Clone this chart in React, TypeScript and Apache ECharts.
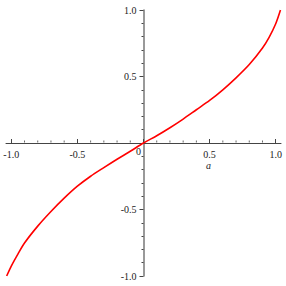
import React, { useEffect, useRef } from "react";
import * as echarts from "echarts";

const xValues = [-1.035, -1.0, -0.95, -0.9, -0.8, -0.7, -0.6, -0.5, -0.4, -0.3, -0.2, -0.1, 0, 0.1, 0.2, 0.3, 0.4, 0.5, 0.6, 0.7, 0.8, 0.9, 0.95, 1.0, 1.036];
const yValues = [-1.0, -0.925, -0.835, -0.752, -0.625, -0.515, -0.415, -0.325, -0.25, -0.185, -0.122, -0.062, 0, 0.055, 0.115, 0.18, 0.25, 0.32, 0.4, 0.49, 0.59, 0.715, 0.795, 0.897, 1.0];
const xMajorTicks = [-1, -0.5, 0, 0.5, 1];
const xMinorTicks = [-0.9, -0.8, -0.7, -0.6, -0.4, -0.3, -0.2, -0.1, 0.1, 0.2, 0.3, 0.4, 0.6, 0.7, 0.8, 0.9];
const xLabelValues = [-1, -0.5, 0.5, 1];
const originLabel = "0";
const xName = "a";

const GRID = { left: 6, right: 5, top: 10, bottom: 10 };
const W = 286;
const H = 286;
const X_MIN = -1.04;
const X_MAX = 1.04;
const Y_MIN = -1;
const Y_MAX = 1;

export default function App() {
  const ref = useRef<HTMLDivElement>(null);
  useEffect(() => {
    if (!ref.current) return;
    const chart = echarts.init(ref.current, undefined, { renderer: "svg" });
    const font = "Liberation Serif";
    const gw = W - GRID.left - GRID.right;
    const gh = H - GRID.top - GRID.bottom;
    const xOffset = -(gh * (0 - Y_MIN)) / (Y_MAX - Y_MIN);
    const yOffset = -(gw * (0 - X_MIN)) / (X_MAX - X_MIN);
    chart.setOption({
      animation: false,
      backgroundColor: "#ffffff",
      grid: { ...GRID, outerBoundsMode: "none", containLabel: false },
      xAxis: {
        type: "value",
        min: X_MIN,
        max: X_MAX,
        position: "bottom",
        offset: xOffset,
        axisLine: { onZero: false, lineStyle: { color: "#444", width: 1 } },
        axisTick: { show: true, inside: true, length: 4, customValues: xMajorTicks, lineStyle: { color: "#444" } },
        axisLabel: {
          customValues: xLabelValues,
          margin: 6,
          fontFamily: font,
          fontSize: 10,
          color: "#222",
          formatter: (v: number) => v.toFixed(1),
        },
        splitLine: { show: false },
      },
      yAxis: {
        type: "value",
        min: Y_MIN,
        max: Y_MAX,
        interval: 0.5,
        position: "left",
        offset: yOffset,
        axisLine: { show: true, onZero: false, lineStyle: { color: "#777", width: 1.5 } },
        axisTick: { show: true, length: 4, lineStyle: { color: "#444" } },
        minorTick: { show: true, splitNumber: 5, length: 2, lineStyle: { color: "#444" } },
        axisLabel: {
          margin: 7,
          fontFamily: font,
          fontSize: 10,
          color: "#222",
          formatter: (v: number) => (v === 0 ? "" : v.toFixed(1)),
        },
        splitLine: { show: false },
      },
      graphic: [
        {
          type: "text",
          left: 136,
          top: 146,
          style: { text: originLabel, font: `10px ${font}`, fill: "#222" },
        },
        {
          type: "text",
          left: 206,
          top: 160,
          style: { text: xName, font: `italic 10px ${font}`, fill: "#222" },
        },
      ],
      series: [
        {
          type: "line",
          data: xValues.map((x, i) => [x, yValues[i]]),
          showSymbol: false,
          smooth: 0.3,
          lineStyle: { color: "#ff0000", width: 1.6 },
          z: 3,
        },
        {
          type: "scatter",
          data: xMinorTicks.map((x) => [x, 0]),
          symbol: "rect",
          symbolSize: [1, 2],
          symbolOffset: [0, -1.5],
          itemStyle: { color: "#444" },
          silent: true,
          z: 2,
        },
      ],
    });
    return () => chart.dispose();
  }, []);
  return <div ref={ref} style={{ width: W, height: H, position: "absolute", left: 0, top: 0 }} />;
}
